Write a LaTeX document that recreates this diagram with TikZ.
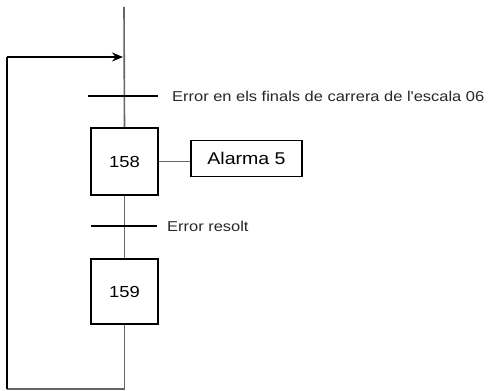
\documentclass[tikz,border=0pt]{standalone}
\usepackage{fontspec}
\setmainfont{Liberation Sans}
\newfontfamily\widefont[FakeStretch=1.15]{Liberation Sans}
\usetikzlibrary{arrows.meta}
\begin{document}
\begin{tikzpicture}[x=1pt,y=-1pt,
  stepbox/.style={draw=black,line width=1.6pt,minimum width=67pt,minimum height=67pt,inner sep=0pt,font=\widefont\fontsize{16}{19}\selectfont},
  actbox/.style={draw=black,line width=1.6pt,minimum width=111pt,minimum height=36pt,inner sep=0pt,font=\widefont\fontsize{17}{20}\selectfont},
  flow/.style={draw=black!60,line width=1.6pt},
  bar/.style={draw=black,line width=1.6pt},
  cond/.style={anchor=west,inner sep=0pt,font=\widefont\fontsize{14.3}{17}\selectfont,text=black!85},
  loop/.style={draw=black,line width=1.6pt}]
\useasboundingbox (0,0) rectangle (488,391);
\node[stepbox] (s158) at (124.5,161.5) {158};
\node[stepbox,minimum height=65pt] (s159) at (124.5,291.5) {159};
\node[actbox] (alarm) at (246.5,158.5) {Alarma 5};
\coordinate (top) at (124,7);
\coordinate (bot) at (124.5,389);
\coordinate (bl) at (7,389);
\coordinate (tl) at (7,57);
\coordinate (join) at (123,57);
\draw[flow] (top) -- (s158.north);
\draw[flow] (s158.south) -- (s159.north);
\draw[flow] (s158.east) -- (s158.east -| alarm.west);
\draw[flow] (s159.south) -- (bot) -- (bl);
\draw[loop] (bl) -- (tl);
\draw[loop,-{Stealth[length=11pt,width=9pt]}] (tl) -- (join);
\draw[bar] (88,96) coordinate (b1a) -- (158,96) coordinate (b1b);
\draw[bar] (91,226) coordinate (b2a) -- (157,226) coordinate (b2b);
\node[cond] (c1) at (172,96) {Error en els finals de carrera de l'escala 06};
\node[cond] (c2) at (167,226) {Error resolt};
\end{tikzpicture}
\end{document}
